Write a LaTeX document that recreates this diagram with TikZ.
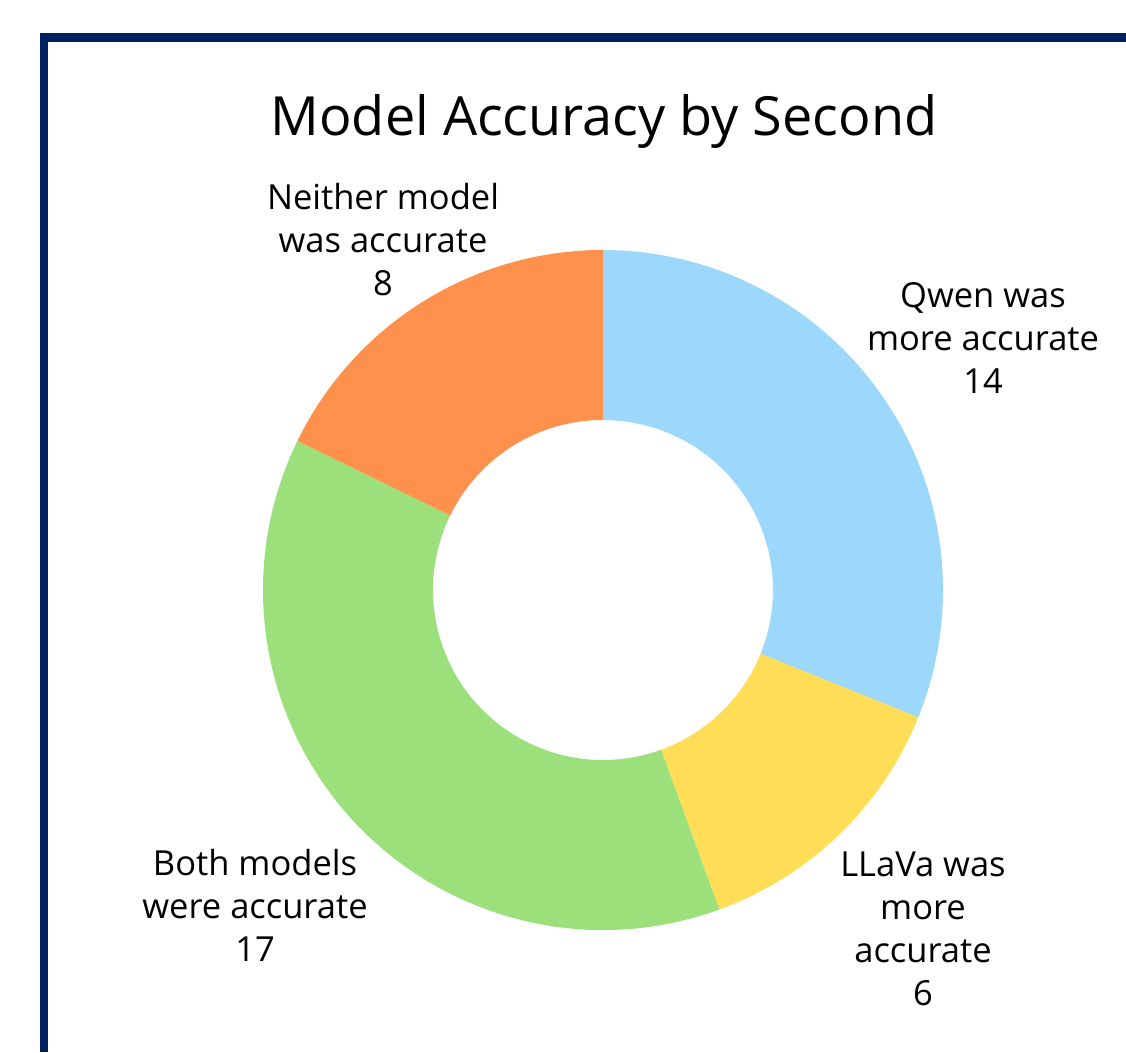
\documentclass[tikz,border=0pt]{standalone}
\usepackage{fontspec}
\setmainfont{Open Sans}
\usetikzlibrary{positioning}

\definecolor{navy}{HTML}{002060}
\definecolor{qwenblue}{HTML}{9BD8FC}
\definecolor{llavayellow}{HTML}{FFDD57}
\definecolor{bothgreen}{HTML}{9CE07B}
\definecolor{neitherorange}{HTML}{FF914D}

\tikzset{
  label/.style={align=center, inner sep=0pt, font=\fontsize{34.5}{43}\selectfont},
  title/.style={inner sep=0pt, font=\fontsize{54}{64}\selectfont}
}

\newcommand{\ringslice}[3]{%
  \fill[#3] (#1:340) arc[start angle=#1, end angle=#2, radius=340]
    -- (#2:170) arc[start angle=#2, end angle=#1, radius=170] -- cycle;}

\begin{document}
\begin{tikzpicture}[x=1pt,y=1pt]
        \useasboundingbox (0,0) rectangle (1126,1052);
        \fill[white] (0,0) rectangle (1126,1052);

        \fill[navy] (40,0) rectangle (48,1019);
        \fill[navy] (40,1010) rectangle (1126,1019);

        \begin{scope}[shift={(603,462)}]
          \ringslice{90}{-22}{qwenblue}
          \ringslice{-22}{-70}{llavayellow}
          \ringslice{-70}{-206}{bothgreen}
          \ringslice{-206}{-270}{neitherorange}
        \end{scope}

        \node (title)   [title] at (604,931) {Model Accuracy by Second};

        \node (neither) [label] at (383,812) {Neither model\\was accurate\\8};
        \node (qwen)    [label] at (983,714) {Qwen was\\more accurate\\14};
        \node (both)    [label] at (255,147) {Both models\\were accurate\\17};
        \node (llava)   [label] at (923,123) {LLaVa was\\more\\accurate\\6};
      \end{tikzpicture}
\end{document}
